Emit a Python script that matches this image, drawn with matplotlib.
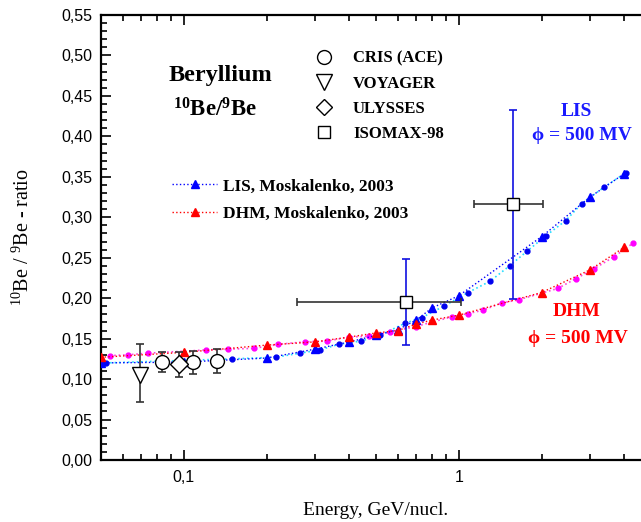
import matplotlib
matplotlib.use('Agg')
import matplotlib.pyplot as plt
from matplotlib.lines import Line2D
from matplotlib.ticker import FixedLocator, NullFormatter, MultipleLocator, FuncFormatter

SERIF = ['Liberation Serif', 'DejaVu Serif']
SANS = ['Liberation Sans', 'DejaVu Sans']

plt.rcParams['mathtext.fontset'] = 'custom'
plt.rcParams['mathtext.rm'] = 'Liberation Serif'
plt.rcParams['mathtext.bf'] = 'Liberation Serif:bold'

# measured ratios (energy in GeV/nucl.)
cris_e = [0.0832, 0.1078, 0.1318]
cris_r = [0.121, 0.121, 0.122]
cris_lo = [0.012, 0.015, 0.015]
cris_hi = [0.012, 0.014, 0.015]

voyager_e = [0.0692]
voyager_r = [0.105]
voyager_lo = [0.033]
voyager_hi = [0.038]

ulysses_e = [0.0959]
ulysses_r = [0.119]
ulysses_lo = [0.017]
ulysses_hi = [0.014]

isomax_e = [0.641, 1.57]
isomax_r = [0.195, 0.317]
isomax_elo = [0.384, 0.436]
isomax_ehi = [0.379, 0.45]
isomax_lo = [0.053, 0.118]
isomax_hi = [0.053, 0.116]

# Moskalenko 2003 model curves
model_e = [0.05, 0.1, 0.2, 0.3, 0.4, 0.5, 0.6, 0.7, 0.8, 1.0, 2.0, 3.0, 4.0]
lis_r = [0.120, 0.121, 0.126, 0.137, 0.146, 0.154, 0.161, 0.173, 0.188, 0.203, 0.276, 0.325, 0.354]
dhm_r = [0.127, 0.133, 0.142, 0.146, 0.152, 0.157, 0.160, 0.168, 0.173, 0.179, 0.207, 0.235, 0.263]

# finer model grid
lis_fine_e = [0.052, 0.15, 0.216, 0.264, 0.312, 0.366, 0.44, 0.516, 0.637, 0.733, 0.881,
              1.08, 1.30, 1.53, 1.77, 2.07, 2.45, 2.8, 3.37, 4.05]
lis_fine_r = [0.120, 0.125, 0.127, 0.132, 0.136, 0.143, 0.147, 0.154, 0.169, 0.176, 0.190,
              0.207, 0.221, 0.240, 0.258, 0.277, 0.296, 0.317, 0.337, 0.355]
dhm_fine_e = [0.0538, 0.0626, 0.0739, 0.120, 0.145, 0.180, 0.221, 0.275, 0.331, 0.40, 0.471,
              0.56, 0.698, 0.944, 1.08, 1.22, 1.43, 1.65, 2.29, 2.66, 3.09, 3.66, 4.3]
dhm_fine_r = [0.129, 0.130, 0.132, 0.136, 0.137, 0.138, 0.143, 0.146, 0.147, 0.152, 0.153,
              0.158, 0.165, 0.177, 0.181, 0.185, 0.194, 0.198, 0.212, 0.224, 0.236, 0.251, 0.268]

yticks = [0.0, 0.05, 0.10, 0.15, 0.20, 0.25, 0.30, 0.35, 0.40, 0.45, 0.50, 0.55]

fig = plt.figure(figsize=(6.41, 5.22), dpi=100)
ax = fig.add_axes([101 / 641, 62 / 522, 550 / 641, 445 / 522])

# model curves
ax.plot(lis_fine_e, lis_fine_r, ls=':', color='#22ddff', lw=1.2, marker='o', ms=3.5,
        mfc='#0000ee', mec='#0000ee', zorder=2)
ax.plot(dhm_fine_e, dhm_fine_r, ls=':', color='#ff44dd', lw=1.2, marker='o', ms=3.5,
        mfc='#ff00ff', mec='#ff00ff', zorder=2)
ax.plot(model_e, lis_r, ls=':', color='#0000ff', lw=1.0, marker='^', ms=5.5,
        mfc='#0000ff', mec='#0000ff', zorder=3)
ax.plot(model_e, dhm_r, ls=':', color='#ff0000', lw=1.0, marker='^', ms=5.5,
        mfc='#ff0000', mec='#ff0000', zorder=3)

# experiments
eb = dict(fmt='none', ecolor='#333333', elinewidth=1.2, capsize=3.2, capthick=1.2, zorder=4)
ax.errorbar(cris_e, cris_r, yerr=[cris_lo, cris_hi], **eb)
ax.errorbar(voyager_e, voyager_r, yerr=[voyager_lo, voyager_hi], **eb)
ax.errorbar(ulysses_e, ulysses_r, yerr=[ulysses_lo, ulysses_hi], **eb)
ax.errorbar(isomax_e, isomax_r, xerr=[isomax_elo, isomax_ehi], **eb)
ax.errorbar(isomax_e, isomax_r, yerr=[isomax_lo, isomax_hi], fmt='none', ecolor='#1010e0',
            elinewidth=1.2, capsize=3.2, capthick=1.2, zorder=4)

mk = dict(ls='none', mfc='white', mec='black', mew=1.0, zorder=5)
ax.plot(cris_e, cris_r, marker='o', ms=10, **mk)
ax.plot(voyager_e, voyager_r, marker='v', ms=12, **mk)
ax.plot(ulysses_e, ulysses_r, marker='D', ms=9, **mk)
ax.plot(isomax_e, isomax_r, marker='s', ms=9, **mk)

ax.set_xscale('log')
ax.set_xlim(0.05, 5)
ax.set_ylim(0, 0.55)

ax.xaxis.set_major_locator(FixedLocator([0.1, 1]))
ax.xaxis.set_minor_locator(FixedLocator([0.06, 0.07, 0.08, 0.09, 0.2, 0.3, 0.4, 0.5, 0.6,
                                         0.7, 0.8, 0.9, 2, 3, 4, 5]))
ax.xaxis.set_minor_formatter(NullFormatter())
ax.xaxis.set_major_formatter(FuncFormatter(lambda v, p: ('%g' % v).replace('.', ',')))
ax.yaxis.set_major_locator(FixedLocator(yticks))
ax.yaxis.set_minor_locator(MultipleLocator(0.01))
ax.yaxis.set_major_formatter(FuncFormatter(lambda v, p: ('%.2f' % v).replace('.', ',')))

ax.tick_params(which='both', direction='in', top=True, right=False, width=1.2)
ax.tick_params(which='major', length=7)
ax.tick_params(which='minor', length=4)
ax.tick_params(axis='x', which='major', pad=7)
ax.tick_params(axis='y', which='major', pad=6)
for lab in ax.get_xticklabels() + ax.get_yticklabels():
    lab.set_family(SANS)
    lab.set_fontsize(11.5)
for s in ax.spines.values():
    s.set_linewidth(1.6)

ax.set_xlabel('Energy, GeV/nucl.', family=SERIF, fontsize=14)
ax.set_ylabel('$^{10}$Be / $^{9}$Be - ratio', family=SERIF, fontsize=14.5)
ax.xaxis.set_label_coords(0.5, -0.094)
ax.yaxis.set_label_coords(-0.122, 0.5)

# legends
h1 = [Line2D([], [], ls='none', marker=m, ms=s, mfc='white', mec='black', mew=1.0)
      for m, s in [('o', 10), ('v', 11), ('D', 8.5), ('s', 9)]]
leg1 = ax.legend(h1, ['CRIS (ACE)', 'VOYAGER', 'ULYSSES', 'ISOMAX-98'], loc='upper left',
                 bbox_to_anchor=(0.390, 0.920), frameon=False, borderpad=0, borderaxespad=0,
                 handlelength=1.0, handletextpad=1.25, labelspacing=0.54, numpoints=1,
                 prop=dict(family=SERIF, weight='bold', size=12))
ax.add_artist(leg1)

h2 = [Line2D([], [], ls=':', color='#0000ff', lw=1.0, marker='^', ms=5.5),
      Line2D([], [], ls=':', color='#ff0000', lw=1.0, marker='^', ms=5.5)]
ax.legend(h2, ['LIS, Moskalenko, 2003', 'DHM, Moskalenko, 2003'], loc='upper left',
          bbox_to_anchor=(0.129, 0.633), frameon=False, borderpad=0, borderaxespad=0,
          handlelength=2.6, handletextpad=0.35, labelspacing=0.67, numpoints=1,
          prop=dict(family=SERIF, weight='bold', size=12.5))

# annotations
ax.text(0.217, 0.865, 'Beryllium', transform=ax.transAxes, ha='center', va='center',
        family=SERIF, weight='bold', fontsize=17.5)
ax.text(0.207, 0.787, r'$\mathbf{^{10}Be/^{9}Be}$', transform=ax.transAxes, ha='center',
        va='center', fontsize=16.5)
ax.text(0.864, 0.784, 'LIS', transform=ax.transAxes, ha='center', va='center',
        family=SERIF, weight='bold', fontsize=14, color='#1a1aff')
ax.text(0.875, 0.730, '\u03d5 = 500 MV', transform=ax.transAxes, ha='center', va='center',
        family=SERIF, weight='bold', fontsize=14, color='#1a1aff')
ax.text(0.864, 0.333, 'DHM', transform=ax.transAxes, ha='center', va='center',
        family=SERIF, weight='bold', fontsize=14, color='#ff0000')
ax.text(0.867, 0.274, '\u03d5 = 500 MV', transform=ax.transAxes, ha='center', va='center',
        family=SERIF, weight='bold', fontsize=14, color='#ff0000')

fig.savefig('out.png', dpi=100)
